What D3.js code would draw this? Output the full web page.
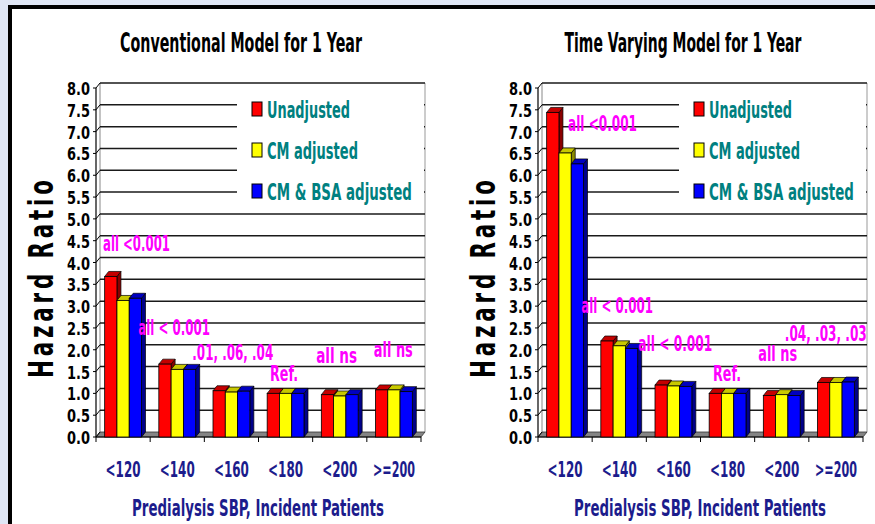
<!DOCTYPE html>
<html>
<head>
<meta charset="utf-8">
<script src="https://cdn.jsdelivr.net/npm/d3@7/dist/d3.min.js"></script>
<style>
  html, body { margin: 0; padding: 0; background: #dfe6f5; }
  svg { display: block; }
  text { font-family: "Liberation Sans Narrow", "Arial Narrow", "DejaVu Sans Condensed", "Liberation Sans", sans-serif; font-stretch: condensed; }
</style>
</head>
<body>
<svg id="chart" width="875" height="524"></svg>
<script>
// Blood-pressure categories and hazard ratios for the two survival models
const categories = ["<120", "<140", "<160", "<180", "<200", ">=200"];
const seriesNames = ["Unadjusted", "CM adjusted", "CM & BSA adjusted"];

const conventionalUnadjusted = [3.68, 1.67, 1.06, 1.00, 0.97, 1.08];
const conventionalCM         = [3.13, 1.55, 1.03, 1.00, 0.94, 1.08];
const conventionalCMBSA      = [3.18, 1.55, 1.05, 1.00, 0.97, 1.04];

const timeVaryingUnadjusted  = [7.44, 2.20, 1.19, 1.00, 0.95, 1.25];
const timeVaryingCM          = [6.51, 2.09, 1.17, 1.00, 0.97, 1.25];
const timeVaryingCMBSA       = [6.26, 2.03, 1.16, 1.00, 0.95, 1.26];

const yTickValues = d3.range(0, 8.001, 0.5);

// p-value notes shown above each group
const conventionalNotes = ["all <0.001", "all < 0.001", ".01, .06, .04", "Ref.", "all ns", "all ns"];
const timeVaryingNotes  = ["all <0.001", "all < 0.001", "all < 0.001", "Ref.", "all ns", ".04, .03, .03"];

const svg = d3.select("#chart");
const W = 875, H = 524;

// page frame: pale blue margin, white sheet, heavy black top/left rule
svg.append("rect").attr("width", W).attr("height", H).attr("fill", "#dfe6f5");
svg.append("rect").attr("x", 12).attr("y", 9).attr("width", W - 12).attr("height", H - 9).attr("fill", "#fff");
svg.append("rect").attr("x", 8).attr("y", 5).attr("width", W - 8).attr("height", 4).attr("fill", "#000");
svg.append("rect").attr("x", 8).attr("y", 5).attr("width", 4).attr("height", H - 5).attr("fill", "#000");

const fills = [
  { front: "#ff0000", top: "#c40000", side: "#8a0000" },
  { front: "#ffff00", top: "#c8c800", side: "#8a8a00" },
  { front: "#0000ff", top: "#0000c0", side: "#00008a" }
];

const DX = 4, DY = 5;   // 3-D depth offset of the back wall

// Narrow-face text: draw at the given size, then squeeze horizontally to the wanted width
function narrowText(parent, x, y, str, width, opts) {
  const t = parent.append("text")
    .attr("text-anchor", opts.anchor || "start")
    .attr("font-size", opts.size).attr("font-weight", opts.weight || "bold")
    .attr("fill", opts.fill || "#000")
    .text(str);
  const natural = t.node().getComputedTextLength() || width;
  const s = Math.min(1, width / natural);
  t.attr("transform", `translate(${x},${y}) scale(${s},1)`);
  return t;
}

function drawPanel(ox, title, titleWidth, series, notes, noteSpots) {
  const g = svg.append("g").attr("transform", `translate(${ox},0)`);

  const x0 = d3.scaleBand().domain(categories).range([96, 421]).paddingInner(0.32).paddingOuter(0.16);
  const x1 = d3.scaleBand().domain(d3.range(series.length)).range([0, x0.bandwidth()]);
  const y = d3.scaleLinear().domain([0, 8]).range([437, 88]);
  const left = 96, right = 421;
  const catStart = c => x0(c) - x0.step() * 0.16;

  // title
  narrowText(g, 241, 52, title, titleWidth, { size: 26, anchor: "middle" });

  // back wall with gridlines
  g.append("line").attr("x1", left + DX).attr("x2", left + DX).attr("y1", y(8) - DY).attr("y2", y(0) - DY)
    .attr("stroke", "#888").attr("stroke-width", 1);
  g.append("line").attr("x1", right + DX).attr("x2", right + DX).attr("y1", y(8) - DY).attr("y2", y(0) - DY)
    .attr("stroke", "#999").attr("stroke-width", 1);
  g.selectAll(".grid").data(yTickValues.filter(v => v > 0)).join("line")
    .attr("x1", left + DX).attr("x2", right + DX)
    .attr("y1", d => y(d) - DY).attr("y2", d => y(d) - DY)
    .attr("stroke", "#1a1a1a").attr("stroke-width", 1.5);

  // floor slab
  g.append("polygon")
    .attr("points", [[left, y(0)], [right, y(0)], [right + DX, y(0) - DY], [left + DX, y(0) - DY]].join(" "))
    .attr("fill", "#858585").attr("stroke", "#333").attr("stroke-width", 0.8);

  // y axis (front edge) with slanted ticks into the wall
  g.append("line").attr("x1", left).attr("x2", left).attr("y1", y(0)).attr("y2", y(8))
    .attr("stroke", "#000").attr("stroke-width", 1.2);
  g.selectAll(".ytick").data(yTickValues).join("path")
    .attr("d", d => `M${left - 3},${y(d)} L${left},${y(d)} L${left + DX},${y(d) - DY}`)
    .attr("fill", "none").attr("stroke", "#000").attr("stroke-width", 1);
  const fmt = d3.format(".1f");
  yTickValues.forEach(v => narrowText(g, 90, y(v) + 7, fmt(v), 23, { size: 18, anchor: "end" }));

  // x axis ticks
  const bounds = categories.map(catStart).concat([right]);
  g.selectAll(".xtick").data(bounds).join("line")
    .attr("x1", d => d).attr("x2", d => d).attr("y1", y(0)).attr("y2", y(0) + 5)
    .attr("stroke", "#000").attr("stroke-width", 1);
  g.append("line").attr("x1", left).attr("x2", right).attr("y1", y(0)).attr("y2", y(0))
    .attr("stroke", "#000").attr("stroke-width", 1);

  // legend block (white box masks the gridlines behind it)
  g.append("rect").attr("x", 237).attr("y", 93).attr("width", right + DX - 237 - 1).attr("height", 112).attr("fill", "#fff");
  seriesNames.forEach((name, i) => {
    const cy = 109 + i * 41;
    g.append("rect").attr("x", 252).attr("y", cy - 7).attr("width", 10).attr("height", 14)
      .attr("fill", fills[i].front).attr("stroke", "#000").attr("stroke-width", 1);
    narrowText(g, 267, cy + 8.5, name, [83, 91, 145][i], { size: 23, fill: "#008080" });
  });

  // 3-D bars
  categories.forEach((cat, ci) => {
    series.forEach((vals, si) => {
      const v = vals[ci];
      const bx = x0(cat) + x1(si), bw = x1.bandwidth();
      const top = y(v), base = y(0);
      const f = fills[si];
      g.append("polygon")
        .attr("points", [[bx + bw, top], [bx + bw + DX, top - DY], [bx + bw + DX, base - DY], [bx + bw, base]].join(" "))
        .attr("fill", f.side).attr("stroke", "#000").attr("stroke-width", 0.7);
      g.append("polygon")
        .attr("points", [[bx, top], [bx + DX, top - DY], [bx + bw + DX, top - DY], [bx + bw, top]].join(" "))
        .attr("fill", f.top).attr("stroke", "#000").attr("stroke-width", 0.7);
      g.append("rect").attr("x", bx).attr("y", top).attr("width", bw).attr("height", base - top)
        .attr("fill", f.front).attr("stroke", "#000").attr("stroke-width", 0.8);
    });
  });

  // p-value notes
  notes.forEach((t, i) => {
    const s = noteSpots[i];
    narrowText(g, catStart(categories[i]) + s.dx, y(s.level) + 8, t, s.w, { size: 22, fill: "#ff00ff" });
  });

  // category labels
  categories.forEach(c => {
    narrowText(g, catStart(c) + x0.step() / 2, 477, c, c.length === 4 ? 35 : 42,
      { size: 22, anchor: "middle", fill: "#1c1c8c" });
  });

  // axis titles
  narrowText(g, 258, 516, "Predialysis SBP, Incident Patients", 252, { size: 23, anchor: "middle", fill: "#1c1c8c" });
  g.append("text").attr("transform", "translate(53,378) rotate(-90) scale(0.7,1)")
    .attr("font-size", 34).attr("font-weight", "bold").attr("fill", "#000")
    .attr("textLength", 198 / 0.7).attr("lengthAdjust", "spacing")
    .text("Hazard Ratio");
}

drawPanel(0, "Conventional Model for 1 Year", 242,
  [conventionalUnadjusted, conventionalCM, conventionalCMBSA],
  conventionalNotes,
  [{ dx: 7, level: 4.45, w: 67 }, { dx: -12, level: 2.52, w: 72 }, { dx: -12, level: 1.95, w: 81 },
   { dx: 11.5, level: 1.47, w: 28 }, { dx: 3.5, level: 1.88, w: 41 }, { dx: 7, level: 2.02, w: 39 }]);

drawPanel(442, "Time Varying Model for 1 Year", 237,
  [timeVaryingUnadjusted, timeVaryingCM, timeVaryingCMBSA],
  timeVaryingNotes,
  [{ dx: 30, level: 7.2, w: 69 }, { dx: -11, level: 3.03, w: 72 }, { dx: -8, level: 2.15, w: 74 },
   { dx: 12.5, level: 1.47, w: 28 }, { dx: 3.5, level: 1.93, w: 39 }, { dx: -24, level: 2.38, w: 82 }]);
</script>
</body>
</html>
